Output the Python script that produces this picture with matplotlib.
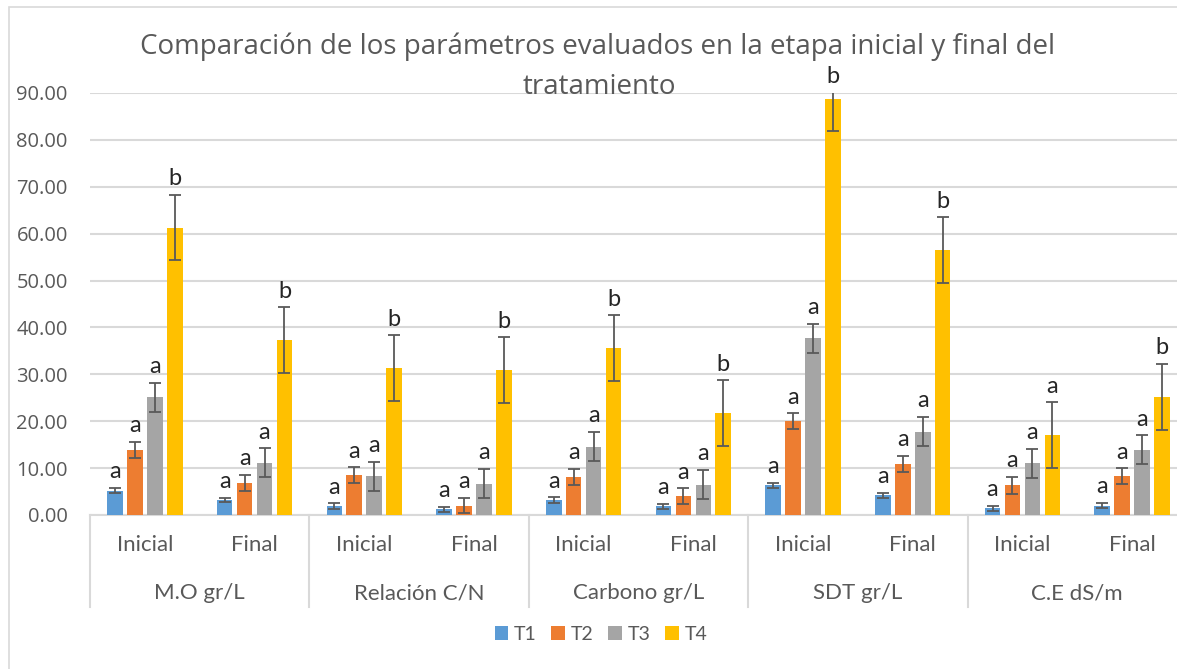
import matplotlib
matplotlib.use("Agg")
import matplotlib.pyplot as plt
from matplotlib.patches import Rectangle, Patch
from matplotlib.lines import Line2D
import matplotlib.transforms as mtransforms

# ---- data ----
categories = ["M.O gr/L", "Relación C/N", "Carbono gr/L", "SDT gr/L", "C.E dS/m"]
stages = ["Inicial", "Final"]
series_names = ["T1", "T2", "T3", "T4"]

T1 = [5.2, 3.2, 1.9, 1.2, 3.2, 1.9, 6.3, 4.2, 1.4, 2.0]
T2 = [13.9, 6.9, 8.5, 2.0, 8.1, 4.0, 20.0, 10.9, 6.3, 8.3]
T3 = [25.1, 11.1, 8.3, 6.7, 14.6, 6.5, 37.7, 17.8, 11.0, 13.9]
T4 = [61.3, 37.3, 31.3, 30.9, 35.6, 21.7, 88.7, 56.5, 17.0, 25.2]

T1_err = [0.55, 0.5, 0.6, 0.55, 0.55, 0.55, 0.55, 0.55, 0.6, 0.55]
T2_err = [1.7, 1.7, 1.65, 1.65, 1.7, 1.7, 1.7, 1.7, 1.8, 1.7]
T3_err = [3.1, 3.1, 3.1, 3.1, 3.1, 3.1, 3.1, 3.1, 3.1, 3.1]
T4_err = [7.0, 7.0, 7.0, 7.0, 7.0, 7.0, 6.9, 7.0, 7.0, 7.0]

T1_letters = ["a"] * 10
T2_letters = ["a"] * 10
T3_letters = ["a"] * 10
T4_letters = ["b", "b", "b", "b", "b", "b", "b", "b", "a", "b"]

yticks = [0, 10, 20, 30, 40, 50, 60, 70, 80, 90]

title_line1 = "Comparación de los parámetros evaluados en la etapa inicial y final del"
title_line2 = "tratamiento"

# ---- style ----
colors = ["#5B9BD5", "#ED7D31", "#A5A5A5", "#FFC000"]
txt_color = "#595959"
grid_color = "#D9D9D9"
err_color = "#595959"

W, H = 1177, 669
fig = plt.figure(figsize=(W / 100, H / 100), dpi=100)

def fx(px):
    return px / W

def fy(py):
    return 1 - py / H

ax_left, ax_right, ax_top, ax_bot = 90, 1187, 93, 515
ax = fig.add_axes([fx(ax_left), fy(ax_bot), (ax_right - ax_left) / W, (ax_bot - ax_top) / H])

n = len(T1)
xs = list(range(n))
pitch = 20 / 110
width = 15.6 / 110
all_vals = [T1, T2, T3, T4]
all_errs = [T1_err, T2_err, T3_err, T4_err]
all_letters = [T1_letters, T2_letters, T3_letters, T4_letters]

ymax = 90
for k in range(4):
    off = (k - 1.5) * pitch
    pos = [x + off for x in xs]
    ax.bar(pos, all_vals[k], width=width, color=colors[k], zorder=3, label=series_names[k])
    ax.errorbar(pos, all_vals[k], yerr=all_errs[k], fmt="none", ecolor=err_color,
                elinewidth=1.3, capsize=4.3, capthick=1.3, zorder=4)
    for p, v, e, l in zip(pos, all_vals[k], all_errs[k], all_letters[k]):
        top = min(v + e, ymax)
        ax.annotate(l, (p, top), xytext=(0, 4), textcoords="offset points",
                    ha="center", va="bottom", fontsize=17, color="#262626",
                    family="Lato", annotation_clip=False)

ax.set_xlim(-0.5, n - 0.5)
ax.set_ylim(0, ymax)
ax.set_yticks(yticks)
ax.set_yticklabels([f"{v:.2f}" for v in yticks], family="Open Sans", fontsize=14.5, color=txt_color)
ax.tick_params(axis="y", length=0, pad=16)
ax.set_xticks([])
ax.yaxis.grid(True, color=grid_color, linewidth=1.5, zorder=0)
ax.set_axisbelow(True)
for s in ["left", "right", "top"]:
    ax.spines[s].set_visible(False)
ax.spines["bottom"].set_color(grid_color)
ax.spines["bottom"].set_linewidth(1.5)

# multi-level category axis
trans = mtransforms.blended_transform_factory(ax.transData, fig.transFigure)
for i in range(n):
    ax.text(i, fy(545), stages[i % 2], transform=trans, ha="center", va="center",
            fontsize=16, color=txt_color, family="Lato")
for c, name in enumerate(categories):
    ax.text(2 * c + 0.5, fy(593), name, transform=trans, ha="center", va="center",
            fontsize=16, color=txt_color, family="Lato")
for b in range(len(categories) + 1):
    xb = 2 * b - 0.5
    ax.add_line(Line2D([xb, xb], [fy(515), fy(607)], transform=trans, color=grid_color,
                       linewidth=1.5, clip_on=False))

# title
fig.text(fx(598), fy(47), title_line1, ha="center", va="center", fontsize=20,
         color=txt_color, family="Open Sans")
fig.text(fx(599), fy(87), title_line2, ha="center", va="center", fontsize=20,
         color=txt_color, family="Open Sans")

# legend
handles = [Patch(facecolor=colors[k], edgecolor="none") for k in range(4)]
fig.legend(handles, series_names, loc="center", bbox_to_anchor=(fx(601), fy(634)), ncol=4,
           frameon=False, handlelength=0.7, handleheight=0.7, handletextpad=0.3,
           columnspacing=0.75, prop={"family": "Lato", "size": 14}, labelcolor=txt_color)

# chart border
fig.patches.append(Rectangle((fx(8.5), fy(700)), 1.2, fy(7) - fy(700), transform=fig.transFigure,
                             fill=False, edgecolor=grid_color, linewidth=1.2))

fig.savefig("out.png", dpi=100)
